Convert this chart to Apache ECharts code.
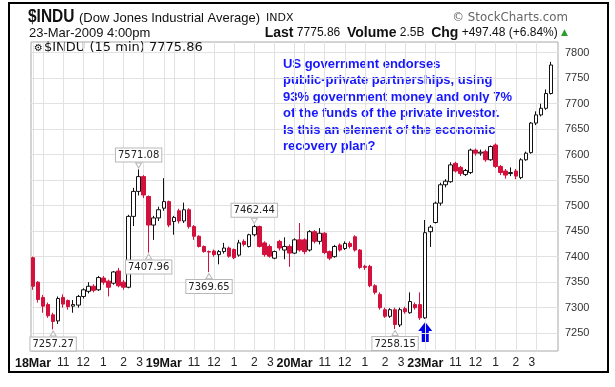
<!DOCTYPE html>
<html><head><meta charset="utf-8">
<script src="https://cdn.jsdelivr.net/npm/echarts@6/dist/echarts.min.js"></script>
<style>html,body{margin:0;padding:0;background:#fff}#c{width:615px;height:387px}</style>
</head><body><div id="c"></div>
<script>
// ---- data (15-minute bars, 26 per session) ----
const days = ['18Mar', '19Mar', '20Mar', '23Mar'];
const barsPerDay = 26;
const hourLabels = ['11', '12', '1', '2', '3'];
const hourLabelClock = [11, 12, 13, 14, 15];
const gridClock = [10, 11, 12, 13, 14, 15];
const yTicks = [7250, 7300, 7350, 7400, 7450, 7500, 7550, 7600, 7650, 7700, 7750, 7800];

const opens = [
  7398,7350,7320,7306,7286,7274,7320,7314,7303,7305,7322,7332,7342,7335,7358,7352,7348,7372,7350,7340,7479,7528,7557,7518,7462,7476,
  7495,7508,7469,7490,7470,7492,7459,7440,7420,7410,7411,7404,7410,7417,7414,7403,7430,7420,7443,7459,7427,7420,7397,7430,7413,7420,
  7407,7433,7433,7413,7449,7430,7446,7410,7400,7423,7416,7426,7439,7413,7381,7381,7343,7326,7296,7283,7296,7266,7298,7290,7306,7306,
  7280,7449,7467,7505,7541,7547,7583,7575,7561,7565,7609,7603,7606,7590,7619,7577,7568,7563,7568,7555,7590,7604,7662,7678,7691,7720
];
const closes = [
  7342,7316,7303,7284,7273,7318,7307,7302,7306,7322,7335,7342,7334,7359,7350,7340,7370,7343,7340,7479,7528,7557,7521,7462,7476,7492,
  7508,7462,7477,7470,7492,7459,7440,7420,7410,7409,7404,7410,7417,7401,7398,7427,7424,7443,7459,7420,7404,7401,7410,7417,7420,7407,
  7433,7413,7410,7449,7430,7446,7408,7397,7420,7413,7426,7420,7413,7379,7379,7343,7330,7300,7283,7296,7267,7296,7292,7312,7300,7280,
  7447,7458,7505,7541,7548,7580,7568,7563,7569,7609,7603,7605,7590,7616,7577,7565,7560,7565,7558,7590,7603,7662,7678,7691,7720,7775.86
];
const lows = [
  7335,7310,7290,7280,7257.27,7268,7300,7296,7290,7300,7318,7328,7330,7333,7345,7322,7345,7340,7335,7338,7460,7520,7515,7407.96,7433,7470,
  7490,7458,7443,7465,7466,7455,7433,7418,7408,7369.65,7400,7385,7406,7398,7395,7400,7420,7418,7440,7418,7400,7398,7395,7412,7395,7380,
  7405,7410,7405,7410,7426,7424,7405,7393,7398,7410,7413,7416,7410,7376,7374,7340,7326,7296,7280,7280,7258.15,7262,7288,7288,7296,7276,
  7278,7419,7465,7500,7536,7545,7565,7558,7558,7562,7598,7598,7586,7588,7574,7560,7553,7558,7552,7552,7588,7602,7658,7675,7688,7718
];
const highs = [
  7400,7352,7325,7310,7290,7322,7326,7316,7315,7325,7338,7350,7346,7362,7362,7355,7372,7378,7354,7482,7535,7571.08,7560,7520,7480,7498,
  7554,7510,7480,7494,7506,7495,7462,7442,7422,7412,7414,7413,7427,7420,7416,7433,7434,7445,7462.44,7461,7430,7424,7412,7433,7438,7424,
  7436,7466,7436,7452,7452,7456,7448,7412,7423,7426,7430,7430,7442,7415,7384,7384,7346,7330,7300,7299,7300,7300,7302,7330,7310,7330,
  7472,7462,7508,7545,7552,7585,7586,7578,7572,7612,7612,7610,7610,7618,7622,7580,7572,7575,7572,7593,7606,7664,7685,7700,7728,7782
];
const markHighBars = [21, 44];
const markLowBars = [4, 23, 35, 72];
const arrowBar = 78;

const legendText = '$INDU (15 min) 7775.86';
const noteLines = [
  'US government endorses',
  'public-private partnerships, using',
  '93% government money and only 7%',
  'of the funds of the private investor.',
  'Is this an element of the economic',
  'recovery plan?'
];

// ---- build ----
const source = opens.map((o, i) => [i, o, closes[i], lows[i], highs[i]]);
const clockToBar = c => (c * 60 - 570) / 15;
const gridX = [];
const labelX = [];
const labelText = {};
days.forEach((d, k) => {
  const base = k * barsPerDay;
  gridX.push(base);
  gridClock.forEach(c => gridX.push(base + clockToBar(c)));
  labelX.push(base); labelText[base] = '{d|' + d + '}';
  hourLabelClock.forEach((c, j) => {
    let v = base + clockToBar(c);
    if (j === hourLabelClock.length - 1) v -= 0.8;
    labelX.push(v); labelText[v] = '{h|' + hourLabels[j] + '}';
  });
});

const fmt = v => v.toFixed(2);
const boxLabel = {
  show: true, color: '#222', fontFamily: 'DejaVu Sans', fontSize: 10,
  backgroundColor: '#fff', borderColor: '#b8b8b8', borderWidth: 1, padding: [2, 2, 1, 2]
};
const markData = [];
markHighBars.forEach(i => markData.push({
  coord: [i, highs[i]], value: highs[i], symbol: 'triangle', symbolSize: [6, 5], symbolRotate: 180,
  symbolOffset: [0, -4], itemStyle: { color: '#fff', borderColor: '#b8b8b8', borderWidth: 1 },
  label: Object.assign({}, boxLabel, { position: 'top', distance: 1, formatter: () => fmt(highs[i]) })
}));
markLowBars.forEach(i => markData.push({
  coord: [i, lows[i]], value: lows[i], symbol: 'triangle', symbolSize: [6, 5],
  symbolOffset: [0, 4], itemStyle: { color: '#fff', borderColor: '#b8b8b8', borderWidth: 1 },
  label: Object.assign({}, boxLabel, { position: 'bottom', distance: 1, formatter: () => fmt(lows[i]) })
}));

const chart = echarts.init(document.getElementById('c'), null, { renderer: 'canvas' });
const option = {
  animation: false,
  backgroundColor: '#fff',
  grid: { left: 31, top: 42, width: 527, height: 309, show: true, borderColor: '#a8a8a8', borderWidth: 1 },
  xAxis: {
    type: 'value', min: -0.4, max: 104.4,
    axisLine: { show: false },
    axisTick: { show: false, customValues: gridX },
    splitLine: { show: true, lineStyle: { color: '#e2e2e2', width: 1 } },
    axisLabel: {
      customValues: labelX, margin: 6, hideOverlap: false,
      formatter: v => labelText[v] || '',
      rich: {
        d: { fontFamily: 'Liberation Sans', fontWeight: 'bold', fontSize: 12.5, color: '#111' },
        h: { fontFamily: 'Liberation Sans', fontSize: 12, color: '#222' }
      }
    }
  },
  yAxis: {
    type: 'value', position: 'right', min: 7215, max: 7821,
    axisLine: { show: false },
    axisTick: { show: false, customValues: yTicks },
    splitLine: { show: true, lineStyle: { color: '#e2e2e2', width: 1 } },
    axisLabel: { customValues: yTicks, margin: 7, fontFamily: 'Liberation Sans', fontSize: 11, color: '#333', formatter: v => String(v) }
  },
  series: [{
    type: 'candlestick',
    encode: { x: 0, y: [1, 2, 3, 4] },
    data: source,
    barWidth: 4,
    itemStyle: { color: '#ffffff', color0: '#d4103c', borderColor: '#111', borderColor0: '#d4103c', borderWidth: 1 },
    markPoint: { data: markData, silent: true }
  }],
  graphic: [
    { type: 'rect', shape: { x: 9, y: 3, width: 599, height: 369 }, style: { fill: 'none', stroke: '#000', lineWidth: 2 } },
    { type: 'text', x: 28, y: 17, scaleX: 0.86, style: { text: '$INDU', font: 'bold 18px "Liberation Sans"', fill: '#111', verticalAlign: 'middle' } },
    { type: 'text', x: 79, y: 18, style: { text: '(Dow Jones Industrial Average)', font: '13px "Liberation Sans"', fill: '#111', verticalAlign: 'middle' } },
    { type: 'text', x: 266, y: 18, style: { text: 'INDX', font: '11px "DejaVu Sans"', fill: '#111', verticalAlign: 'middle' } },
    { type: 'text', x: 568, y: 18, style: { text: '\u00a9 StockCharts.com', font: '11.8px "DejaVu Sans"', fill: '#666', align: 'right', verticalAlign: 'middle' } },
    { type: 'text', x: 29, y: 33, style: { text: '23-Mar-2009 4:00pm', font: '13px "Liberation Sans"', fill: '#111', verticalAlign: 'middle' } },
    { type: 'text', x: 568, y: 33, style: {
        text: '{b|Last} {n|7775.86}  {b|Volume} {n|2.5B}  {b|Chg} {n|+497.48 (+6.84%)} {g|\u25b2}',
        align: 'right', verticalAlign: 'middle',
        rich: {
          b: { font: 'bold 14px "Liberation Sans"', fill: '#111' },
          n: { font: '12px "Liberation Sans"', fill: '#111' },
          g: { font: '9px "DejaVu Sans"', fill: '#2a9d2a' }
        } } },
    { type: 'text', x: 44, y: 48, style: { text: legendText, font: '13px "DejaVu Sans"', fill: '#111', verticalAlign: 'middle' } },
    { type: 'text', x: 34, y: 48, style: { text: '\u2699', font: '10px "DejaVu Sans"', fill: '#111', verticalAlign: 'middle' } },
    { type: 'text', x: 283, y: 56, style: { text: noteLines.join('\n'), font: 'bold 13px "Liberation Sans"', fill: '#1515ff', lineHeight: 16.5 } }
  ]
};
chart.setOption(option);
const p = chart.convertToPixel({ gridIndex: 0 }, [arrowBar, lows[arrowBar]]);
const ax = p[0], ay = p[1] + 3;
chart.setOption({ graphic: option.graphic.concat([
  { type: 'polygon', shape: { points: [[ax, ay], [ax + 7, ay + 9], [ax + 3.5, ay + 9], [ax + 3.5, ay + 20], [ax - 3.5, ay + 20], [ax - 3.5, ay + 9], [ax - 7, ay + 9]] }, style: { fill: '#0000ee' } }
]) });
</script></body></html>
